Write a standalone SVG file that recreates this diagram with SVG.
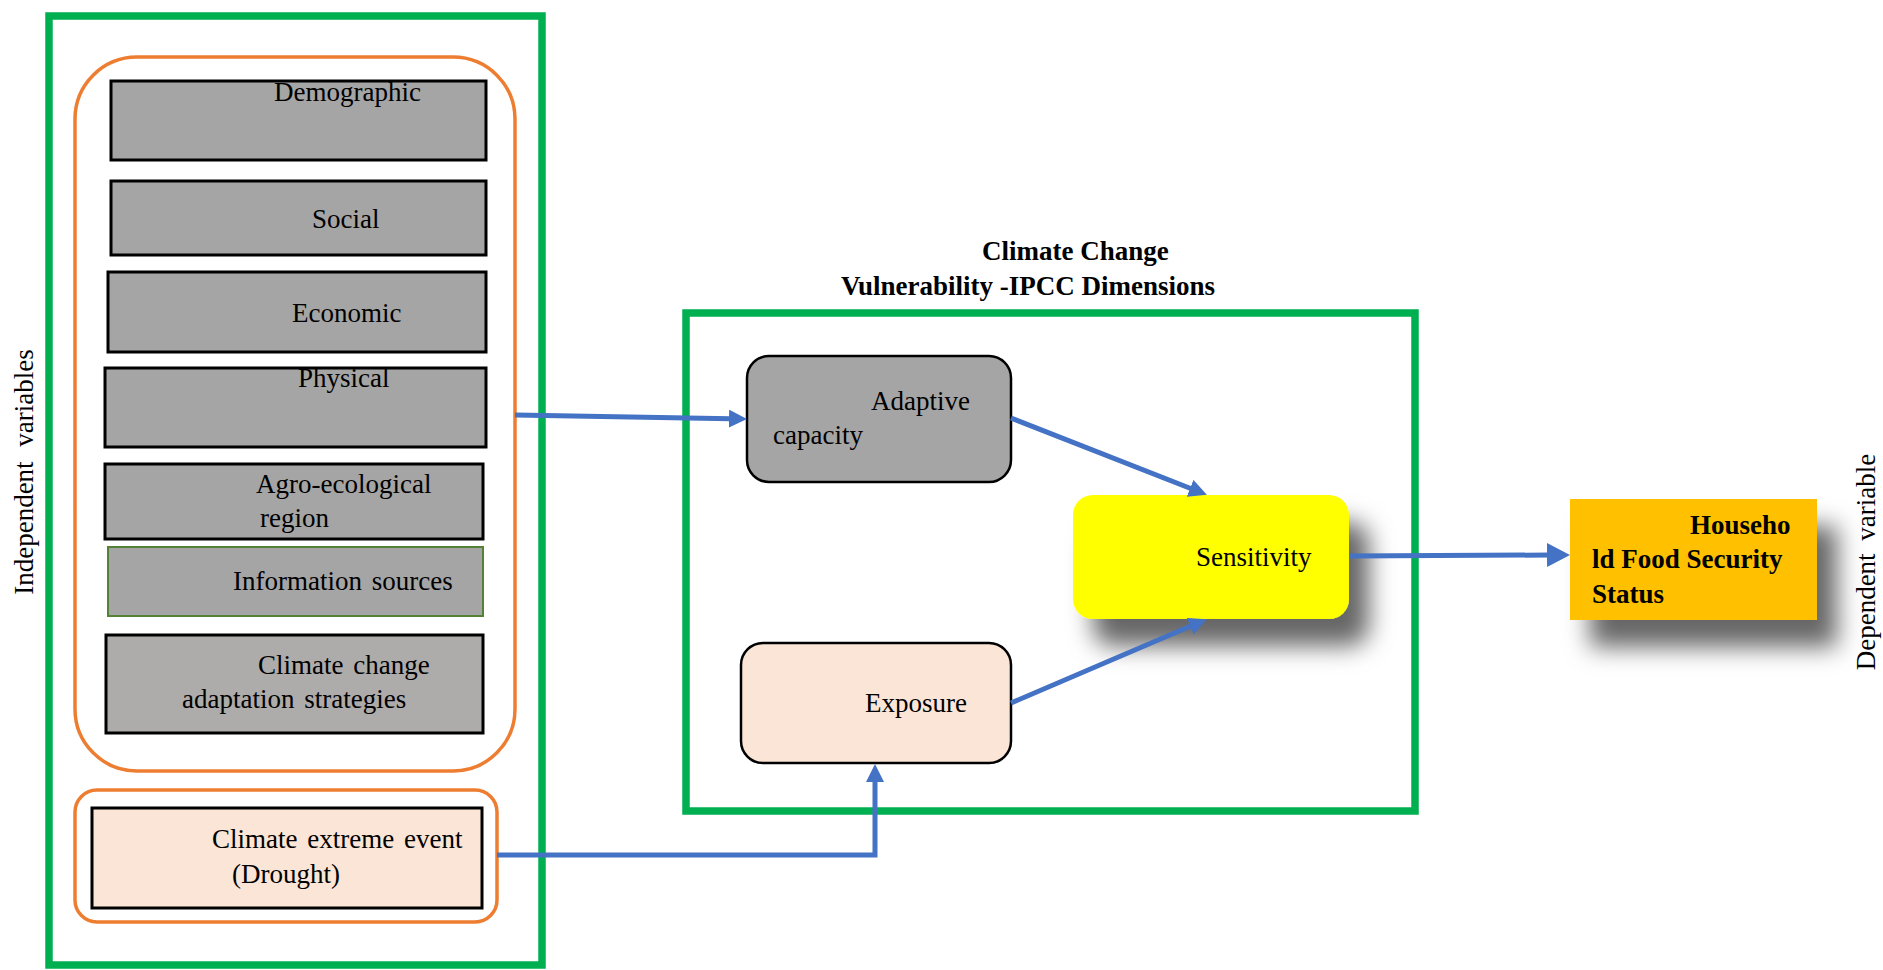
<svg xmlns="http://www.w3.org/2000/svg" width="1883" height="970" viewBox="0 0 1883 970">
  <style>
    text { font-family: "Liberation Serif", "Times New Roman", serif; font-size: 27px; fill: #000; }
    .bold { font-weight: bold; }
    .frame { fill: none; stroke: #00B050; stroke-width: 7.5; }
    .group { fill: none; stroke: #ED7D31; stroke-width: 3.5; }
    .factor { fill: #A5A5A5; stroke: #000; stroke-width: 3; }
    .link { fill: none; stroke: #4472C4; stroke-width: 5; }
  </style>
  <defs>
    <marker id="arrow" markerUnits="userSpaceOnUse" markerWidth="20" markerHeight="18" refX="2" refY="9" orient="auto">
      <path d="M0,0 L18,9 L0,18 z" fill="#4472C4"/>
    </marker>
    <marker id="arrowBig" markerUnits="userSpaceOnUse" markerWidth="24" markerHeight="24" refX="3" refY="12" orient="auto">
      <path d="M0,0 L23,12 L0,24 z" fill="#4472C4"/>
    </marker>
    <filter id="shadow" x="-25%" y="-25%" width="170%" height="200%">
      <feDropShadow dx="20" dy="27" stdDeviation="12" flood-color="#000" flood-opacity="0.6"/>
    </filter>
  </defs>

  <rect width="1883" height="970" fill="#fff"/>

  <!-- axis labels -->
  <text transform="translate(33,472) rotate(-90)" text-anchor="middle" word-spacing="8">Independent variables</text>
  <text transform="translate(1875,562) rotate(-90)" text-anchor="middle" font-size="26" word-spacing="6">Dependent variable</text>

  <!-- frames -->
  <g id="independent-frame">
    <rect class="frame" x="49" y="16" width="493" height="949"/>
    <rect class="group" x="75" y="57" width="440" height="714" rx="62" ry="62"/>
    <rect class="group" x="75" y="790" width="422" height="132" rx="22" ry="22"/>
  </g>
  <g id="ipcc-frame">
    <text class="bold" x="982" y="260">Climate Change</text>
    <text class="bold" x="841" y="295">Vulnerability -IPCC Dimensions</text>
    <rect class="frame" x="686" y="313" width="729" height="498"/>
  </g>

  <!-- independent variable factors -->
  <g id="demographic">
    <rect class="factor" x="111" y="81" width="375" height="79"/>
    <text x="274" y="101">Demographic</text>
  </g>
  <g id="social">
    <rect class="factor" x="111" y="181" width="375" height="74"/>
    <text x="312" y="228">Social</text>
  </g>
  <g id="economic">
    <rect class="factor" x="108" y="272" width="378" height="80"/>
    <text x="292" y="322">Economic</text>
  </g>
  <g id="physical">
    <rect class="factor" x="105" y="368" width="381" height="79"/>
    <text x="298" y="387">Physical</text>
  </g>
  <g id="agro-ecological">
    <rect class="factor" x="105" y="464" width="378" height="75"/>
    <text x="256" y="493">Agro-ecological</text>
    <text x="260" y="527">region</text>
  </g>
  <g id="information-sources">
    <rect x="108" y="547" width="375" height="69" fill="#A5A5A5" stroke="#538135" stroke-width="2"/>
    <text x="233" y="590" word-spacing="3">Information sources</text>
  </g>
  <g id="adaptation-strategies">
    <rect class="factor" x="106" y="635" width="377" height="98" style="fill:#AEABAB"/>
    <text x="258" y="674" word-spacing="3">Climate change</text>
    <text x="182" y="708" word-spacing="3">adaptation strategies</text>
  </g>
  <g id="extreme-event">
    <rect x="92" y="808" width="390" height="100" fill="#FBE5D6" stroke="#000" stroke-width="3"/>
    <text x="212" y="848" word-spacing="3">Climate extreme event</text>
    <text x="232" y="883">(Drought)</text>
  </g>

  <!-- IPCC dimensions -->
  <g id="adaptive-capacity">
    <rect x="747" y="356" width="264" height="126" rx="22" ry="22" fill="#A5A5A5" stroke="#000" stroke-width="2.5"/>
    <text x="871" y="410">Adaptive</text>
    <text x="773" y="444">capacity</text>
  </g>
  <g id="exposure">
    <rect x="741" y="643" width="270" height="120" rx="22" ry="22" fill="#FBE5D6" stroke="#000" stroke-width="2.5"/>
    <text x="865" y="712">Exposure</text>
  </g>
  <g id="sensitivity">
    <rect x="1073" y="495" width="276" height="124" rx="20" ry="20" fill="#FFFF00" filter="url(#shadow)"/>
    <text x="1196" y="566">Sensitivity</text>
  </g>

  <!-- dependent variable -->
  <g id="food-security">
    <rect x="1570" y="499" width="247" height="121" fill="#FFC000" filter="url(#shadow)"/>
    <text class="bold" x="1690" y="534">Househo</text>
    <text class="bold" x="1592" y="568">ld Food Security</text>
    <text class="bold" x="1592" y="603">Status</text>
  </g>

  <!-- connectors -->
  <g id="connectors">
    <path class="link" d="M515,415 L731,418.7" marker-end="url(#arrow)"/>
    <path class="link" d="M1011,418 L1192,489" marker-end="url(#arrow)"/>
    <path class="link" d="M1011,703 L1192,625.5" marker-end="url(#arrow)"/>
    <path class="link" d="M497,855 L875,855 L875,780" marker-end="url(#arrow)"/>
    <path class="link" stroke-width="7" d="M1349,556 L1550,555" marker-end="url(#arrowBig)"/>
  </g>
</svg>
